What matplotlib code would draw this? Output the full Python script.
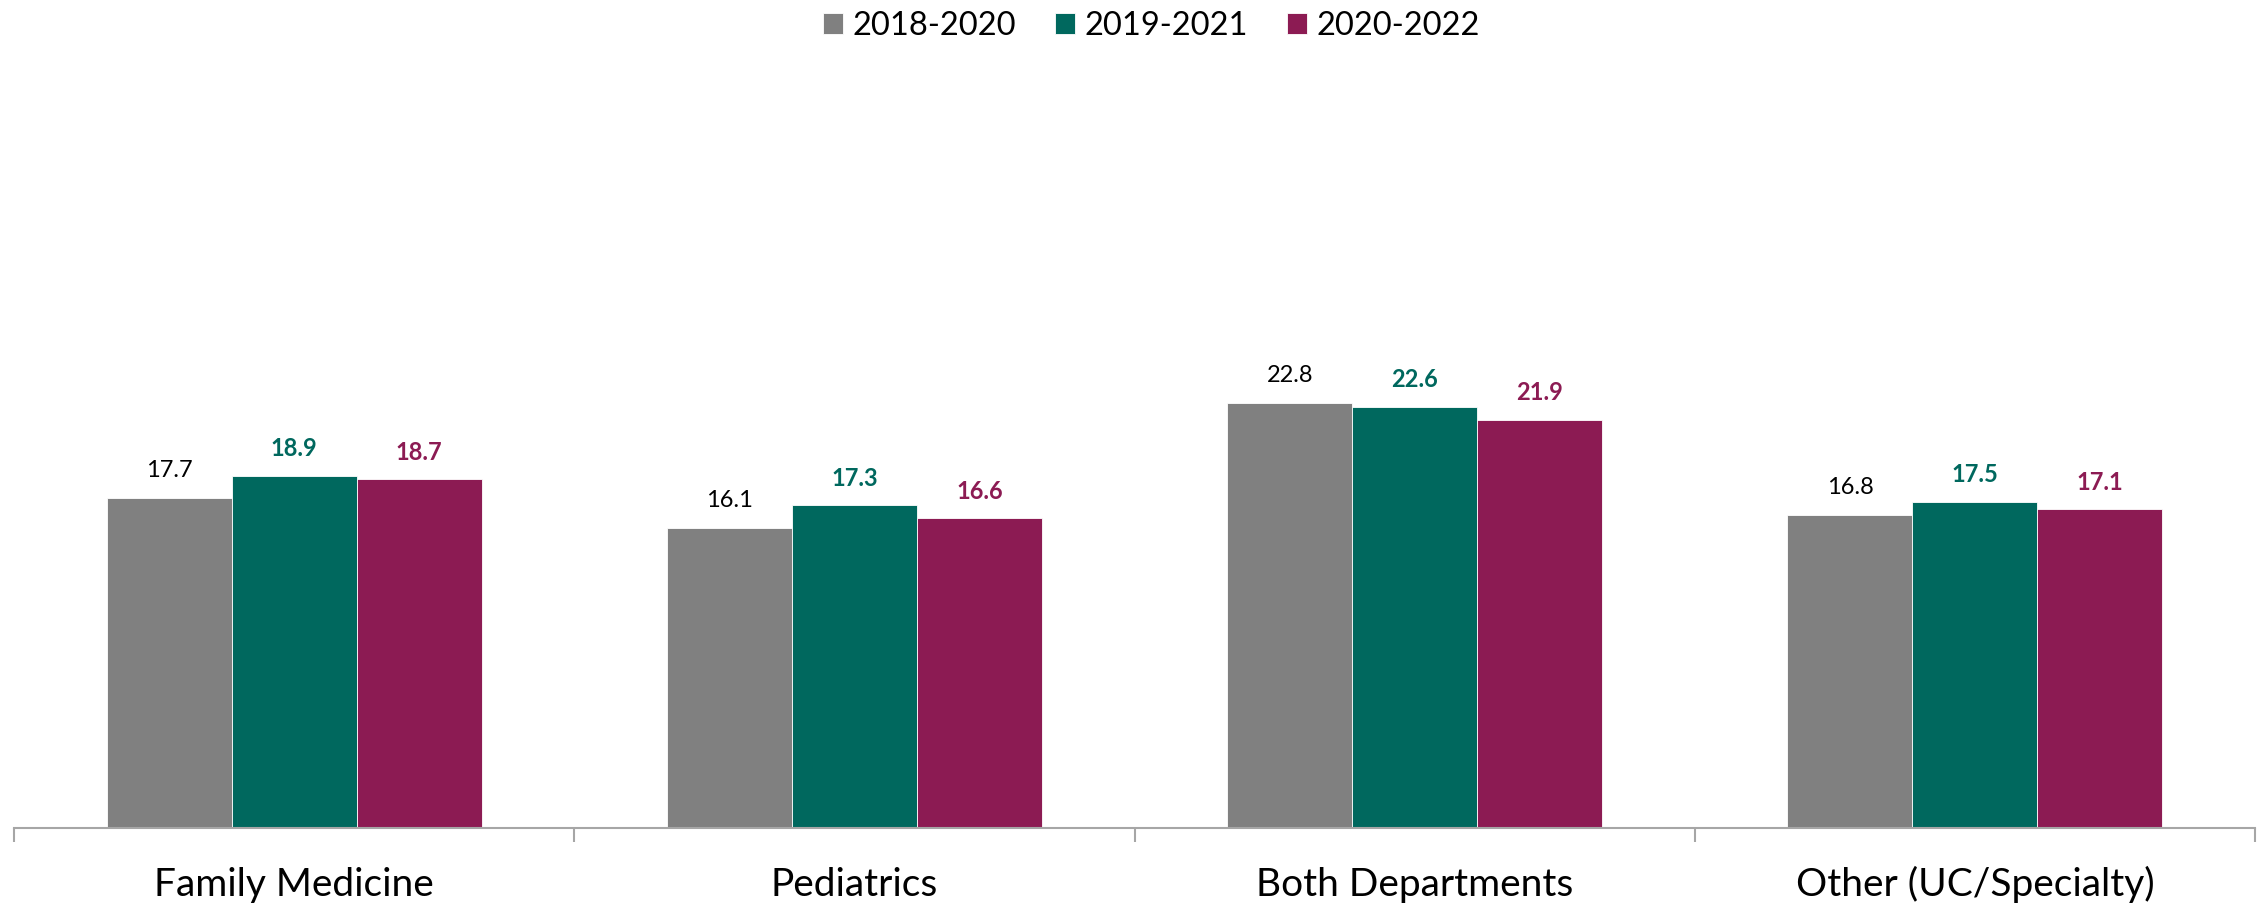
import matplotlib
matplotlib.use("Agg")
import matplotlib.pyplot as plt
import numpy as np

plt.rcParams['font.family'] = ['Lato', 'DejaVu Sans']

categories = ["Family Medicine", "Pediatrics", "Both Departments", "Other (UC/Specialty)"]
series_names = ["2018-2020", "2019-2021", "2020-2022"]
values_2018_2020 = [17.7, 16.1, 22.8, 16.8]
values_2019_2021 = [18.9, 17.3, 22.6, 17.5]
values_2020_2022 = [18.7, 16.6, 21.9, 17.1]

colors = ["#808080", "#00685E", "#8C1B53"]
label_colors = ["#000000", "#00685E", "#8C1B53"]
label_weights = ["normal", "bold", "bold"]

W, H = 2267, 907
fig = plt.figure(figsize=(W / 100, H / 100), dpi=100)
ax = fig.add_axes([14 / W, 79 / H, (2255 - 14) / W, (828 - 82) / H])

x = np.arange(len(categories))
bw = 0.223
all_series = [values_2018_2020, values_2019_2021, values_2020_2022]
for i, vals in enumerate(all_series):
    pos = x + (i - 1) * bw
    ax.bar(pos, vals, width=bw, color=colors[i], label=series_names[i],
           edgecolor="white", linewidth=0.6)
    for xp, v in zip(pos, vals):
        ax.annotate(f"{v:.1f}", (xp, v), xytext=(0, 19.5), textcoords="offset points",
                    ha="center", va="center", fontsize=17,
                    color=label_colors[i], fontweight=label_weights[i])

ax.set_xlim(-0.5, len(categories) - 0.5)
ax.set_ylim(0, 40)
ax.set_yticks([])
for s in ["top", "right", "left"]:
    ax.spines[s].set_visible(False)
ax.spines["bottom"].set_color("#A6A6A6")
ax.spines["bottom"].set_linewidth(1.5)

# category boundaries carry the ticks; names sit centered below each group
ax.set_xticks(np.arange(-0.5, len(categories), 1.0))
ax.set_xticklabels([])
ax.tick_params(axis="x", length=10, width=1.5, color="#A6A6A6", direction="out")
for xi, name in zip(x, categories):
    ax.text(xi, -0.076, name, transform=ax.get_xaxis_transform(),
            ha="center", va="center", fontsize=28)

fig.legend(loc="upper center", bbox_to_anchor=(0.508, 1.002), ncol=3, frameon=False,
           fontsize=23.5, handlelength=0.6, handleheight=0.6, handletextpad=0.3,
           columnspacing=1.2, borderaxespad=0.0)

fig.savefig("out.png", dpi=100)
